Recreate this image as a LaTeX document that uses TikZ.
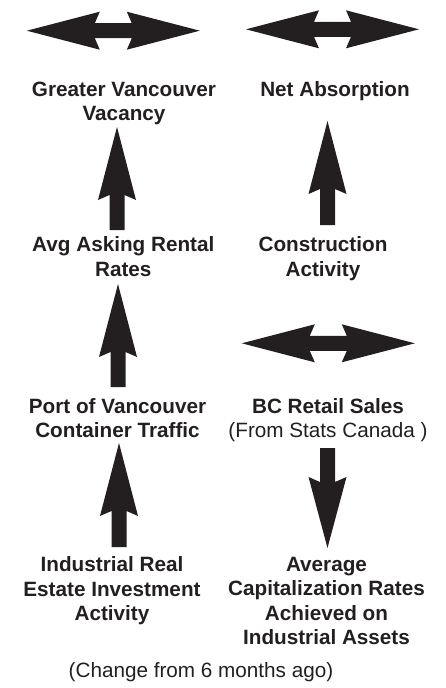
\documentclass[tikz,border=0pt]{standalone}
\usepackage{fontspec}
\setmainfont{Liberation Sans}
\definecolor{ink}{HTML}{231F20}
\tikzset{
  lbl/.style={anchor=north, inner sep=0pt, align=center, text=ink,
    font=\fontsize{20.7}{24.5}\selectfont\bfseries},
  plain/.style={font=\fontsize{20.7}{24.5}\selectfont\mdseries},
  pics/uparr/.style={code={\fill[ink] (0,0) -- (19,73) -- (7.5,68) -- (7.5,#1) -- (-7.5,#1) -- (-7.5,68) -- (-19,73) -- cycle;}},
  pics/dnarr/.style={code={\fill[ink] (0,0) -- (19,-71) -- (7.5,-66) -- (7.5,-#1) -- (-7.5,-#1) -- (-7.5,-66) -- (-19,-71) -- cycle;}},
  pics/lrarr/.style={code={\fill[ink] (-86.5,0) -- (-13.5,-19) -- (-18.5,-7.5) -- (18.5,-7.5) -- (13.5,-19) -- (86.5,0) -- (13.5,19) -- (18.5,7.5) -- (-18.5,7.5) -- (-13.5,19) -- cycle;}}
}
\begin{document}
\begin{tikzpicture}[x=1pt,y=-1pt]
\useasboundingbox (0,0) rectangle (445,688);
% trend arrows
\pic at (113.3,30.7) {lrarr};
\pic at (332.5,29.3) {lrarr};
\pic at (117,127) {uparr=103};
\pic at (327.5,121) {uparr=104};
\pic at (118,284) {uparr=103};
\pic at (328.3,343.3) {lrarr};
\pic at (119,443) {uparr=104};
\pic at (327.5,548) {dnarr=100};
% labels
\node[lbl] (gv) at (124,81.7) {Greater Vancouver\\Vacancy};
\node[lbl] (na) at (335,81.7) {Net Absorption};
\node[lbl] (avg) at (123.3,236.7) {Avg Asking Rental\\Rates};
\node[lbl] (con) at (323,236.7) {Construction\\Activity};
\node[lbl, font=\fontsize{20.7}{23.5}\selectfont\bfseries] (port) at (117.5,398.3) {Port of Vancouver\\Container Traffic};
\node[lbl, font=\fontsize{20.7}{23.5}\selectfont\bfseries] (bc) at (328,398.3) {BC Retail Sales\\\mdseries(From Stats Canada )};
\node[lbl] (ire) at (112,556.7) {Industrial Real\\Estate Investment\\Activity};
\node[lbl] (acr) at (326.5,557) {Average\\Capitalization Rates\\Achieved on\\Industrial Assets};
\node[lbl, plain] (chg) at (201,662) {(Change from 6 months ago)};
\end{tikzpicture}
\end{document}
